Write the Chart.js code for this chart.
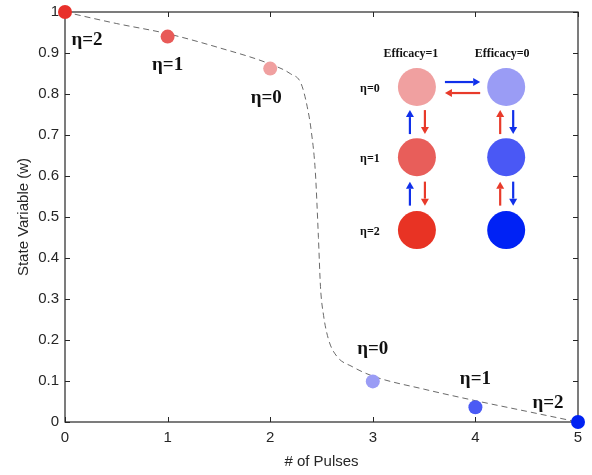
<!DOCTYPE html>
<html>
<head>
<meta charset="utf-8">
<script src="https://cdn.jsdelivr.net/npm/chart.js@4.4.1/dist/chart.umd.min.js"></script>
<style>
  html, body { margin: 0; padding: 0; background: #fff; }
  #wrap { width: 592px; height: 475px; }
</style>
</head>
<body>
<div id="wrap"><canvas id="chart"></canvas></div>
<script>
// Données
const pulses = [0, 1, 2, 3, 4, 5];
const stateW = [1, 0.94, 0.862, 0.099, 0.036, 0];
const pointColors = ['#e8302a', '#e85a58', '#f0a0a0', '#9a9cf5', '#4a5af5', '#0022f2'];
const etaLabels = ['η=2', 'η=1', 'η=0', 'η=0', 'η=1', 'η=2'];

// Courbe en pointillés
const curveX = [0, 0.5, 1, 1.5, 2, 2.2, 2.3, 2.36, 2.4, 2.44, 2.47, 2.49, 2.52, 2.57, 2.65, 2.8, 3, 3.5, 4, 4.5, 5];
const curveY = [1, 0.972, 0.947, 0.913, 0.873, 0.849, 0.826, 0.77, 0.71, 0.61, 0.45, 0.33, 0.26, 0.2, 0.16, 0.135, 0.112, 0.08, 0.052, 0.026, 0];

// Schéma en encart (efficacité / η)
const insetCols = [3.43, 4.3];
const insetRows = [0.817, 0.646, 0.468];
const insetColors = [
    ['#f0a0a0', '#e85e5a', '#e83324'],
    ['#9a9cf5', '#4a58f5', '#0022f5']
];
const insetHeaders = ['Efficacy=1', 'Efficacy=0'];
const insetRowLabels = ['η=0', 'η=1', 'η=2'];

const axisColor = '#262626';
const BLUE = '#1030ea';
const RED = '#e83a2a';

const insetPoints = [];
const insetPointColors = [];
insetCols.forEach((cx, c) => {
    insetRows.forEach((cy, r) => {
        insetPoints.push({ x: cx, y: cy });
        insetPointColors.push(insetColors[c][r]);
    });
});

function arrow(ctx, x1, y1, x2, y2, color) {
    const ang = Math.atan2(y2 - y1, x2 - x1);
    const head = 7, hw = 4;
    ctx.save();
    ctx.strokeStyle = color;
    ctx.fillStyle = color;
    ctx.lineWidth = 2.2;
    ctx.beginPath();
    ctx.moveTo(x1, y1);
    ctx.lineTo(x2 - Math.cos(ang) * head, y2 - Math.sin(ang) * head);
    ctx.stroke();
    ctx.beginPath();
    ctx.moveTo(x2, y2);
    ctx.lineTo(x2 - Math.cos(ang) * head - Math.sin(ang) * hw, y2 - Math.sin(ang) * head + Math.cos(ang) * hw);
    ctx.lineTo(x2 - Math.cos(ang) * head + Math.sin(ang) * hw, y2 - Math.sin(ang) * head - Math.cos(ang) * hw);
    ctx.closePath();
    ctx.fill();
    ctx.restore();
}

// Cadre + graduations vers l'intérieur (style MATLAB)
const framePlugin = {
    id: 'frame',
    beforeDatasetsDraw(chart) {
        const { ctx, chartArea: a, scales: { x, y } } = chart;
        ctx.save();
        ctx.strokeStyle = axisColor;
        ctx.lineWidth = 1.2;
        ctx.strokeRect(a.left, a.top, a.right - a.left, a.bottom - a.top);
        ctx.lineWidth = 1;
        ctx.beginPath();
        x.ticks.forEach(t => {
            const px = Math.round(x.getPixelForValue(t.value)) + 0.5;
            ctx.moveTo(px, a.bottom); ctx.lineTo(px, a.bottom - 5);
            ctx.moveTo(px, a.top); ctx.lineTo(px, a.top + 5);
        });
        y.ticks.forEach(t => {
            const py = Math.round(y.getPixelForValue(t.value)) + 0.5;
            ctx.moveTo(a.left, py); ctx.lineTo(a.left + 5, py);
            ctx.moveTo(a.right, py); ctx.lineTo(a.right - 5, py);
        });
        ctx.stroke();
        ctx.restore();
    }
};

// Étiquettes η et encart
const labelPlugin = {
    id: 'labels',
    afterDatasetsDraw(chart) {
        const { ctx } = chart;
        const offsets = [[22, 28], [0, 28], [-4, 30], [0, -32], [0, -28], [-30, -19]];
        const meta = chart.getDatasetMeta(0);
        ctx.save();
        ctx.fillStyle = '#111';
        ctx.font = 'bold 19px "Liberation Serif", serif';
        ctx.textAlign = 'center';
        ctx.textBaseline = 'middle';
        meta.data.forEach((p, i) => {
            ctx.fillText(etaLabels[i], p.x + offsets[i][0], p.y + offsets[i][1]);
        });

        // Encart
        const nodes = chart.getDatasetMeta(2).data;
        const node = (c, r) => nodes[c * insetRows.length + r];
        ctx.font = 'bold 12px "Liberation Serif", serif';
        insetHeaders.forEach((h, c) => {
            const n = node(c, 0);
            ctx.fillText(h, n.x - (c === 0 ? 6 : 4), n.y - 33);
        });
        insetRowLabels.forEach((h, r) => {
            const n = node(0, r);
            ctx.fillText(h, n.x - 47, n.y + 2);
        });
        ctx.restore();

        // Flèches horizontales
        const l0 = node(0, 0), r0 = node(1, 0);
        arrow(ctx, l0.x + 28, l0.y - 5, r0.x - 26, r0.y - 5, BLUE);
        arrow(ctx, r0.x - 26, r0.y + 6, l0.x + 28, l0.y + 6, RED);
        // Flèches verticales
        for (let r = 0; r < insetRows.length - 1; r++) {
            const lu = node(0, r), ld = node(0, r + 1);
            const ru = node(1, r);
            const mid = (lu.y + ld.y) / 2;
            arrow(ctx, lu.x - 7, mid + 12, lu.x - 7, mid - 12, BLUE);
            arrow(ctx, lu.x + 8, mid - 12, lu.x + 8, mid + 12, RED);
            arrow(ctx, ru.x - 6, mid + 12, ru.x - 6, mid - 12, RED);
            arrow(ctx, ru.x + 7, mid - 12, ru.x + 7, mid + 12, BLUE);
        }
    }
};

const bgPlugin = {
    id: 'bg',
    beforeDraw(chart) {
        const { ctx, width, height } = chart;
        ctx.save();
        ctx.fillStyle = '#fff';
        ctx.fillRect(0, 0, width, height);
        ctx.restore();
    }
};

const ctx = document.getElementById('chart');
new Chart(ctx, {
    type: 'scatter',
    data: {
        datasets: [
            {
                label: 'w',
                data: pulses.map((p, i) => ({ x: p, y: stateW[i] })),
                pointRadius: 7,
                pointHoverRadius: 7,
                pointBackgroundColor: pointColors,
                pointBorderWidth: 0,
                borderWidth: 0,
                clip: false,
                order: 0
            },
            {
                label: 'curve',
                data: curveX.map((v, i) => ({ x: v, y: curveY[i] })),
                showLine: true,
                cubicInterpolationMode: 'monotone',
                borderColor: '#6a6a6a',
                borderWidth: 1,
                borderDash: [6, 4],
                pointRadius: 0,
                clip: false,
                order: 2
            },
            {
                label: 'inset',
                data: insetPoints,
                pointRadius: 19,
                pointHoverRadius: 19,
                pointBackgroundColor: insetPointColors,
                pointBorderWidth: 0,
                order: 1
            }
        ]
    },
    options: {
        responsive: true,
        maintainAspectRatio: false,
        animation: false,
        layout: { autoPadding: false, padding: { left: 0, right: 14, top: 12, bottom: 0 } },
        plugins: {
            legend: { display: false },
            tooltip: { enabled: false }
        },
        scales: {
            x: {
                type: 'linear',
                min: 0,
                max: 5,
                afterFit: s => { s.height = 53; s.paddingLeft = 0; s.paddingRight = 0; },
                ticks: {
                    stepSize: 1,
                    color: axisColor,
                    padding: 7,
                    maxRotation: 0,
                    font: { family: '"Liberation Sans", Arial, sans-serif', size: 15 }
                },
                grid: { display: false, drawTicks: false },
                border: { display: false },
                title: {
                    display: true,
                    text: '# of Pulses',
                    color: axisColor,
                    padding: { top: 0, bottom: 4 },
                    font: { family: '"Liberation Sans", Arial, sans-serif', size: 15 }
                }
            },
            y: {
                type: 'linear',
                min: 0,
                max: 1,
                afterFit: s => { s.width = 65; s.paddingTop = 0; s.paddingBottom = 0; },
                ticks: {
                    stepSize: 0.1,
                    color: axisColor,
                    padding: 6,
                    callback: v => String(+v.toFixed(1)),
                    font: { family: '"Liberation Sans", Arial, sans-serif', size: 15 }
                },
                grid: { display: false, drawTicks: false },
                border: { display: false },
                title: {
                    display: true,
                    text: 'State Variable (w)',
                    color: axisColor,
                    padding: { top: 15, bottom: 0 },
                    font: { family: '"Liberation Sans", Arial, sans-serif', size: 15 }
                }
            }
        }
    },
    plugins: [bgPlugin, framePlugin, labelPlugin]
});
</script>
</body>
</html>
